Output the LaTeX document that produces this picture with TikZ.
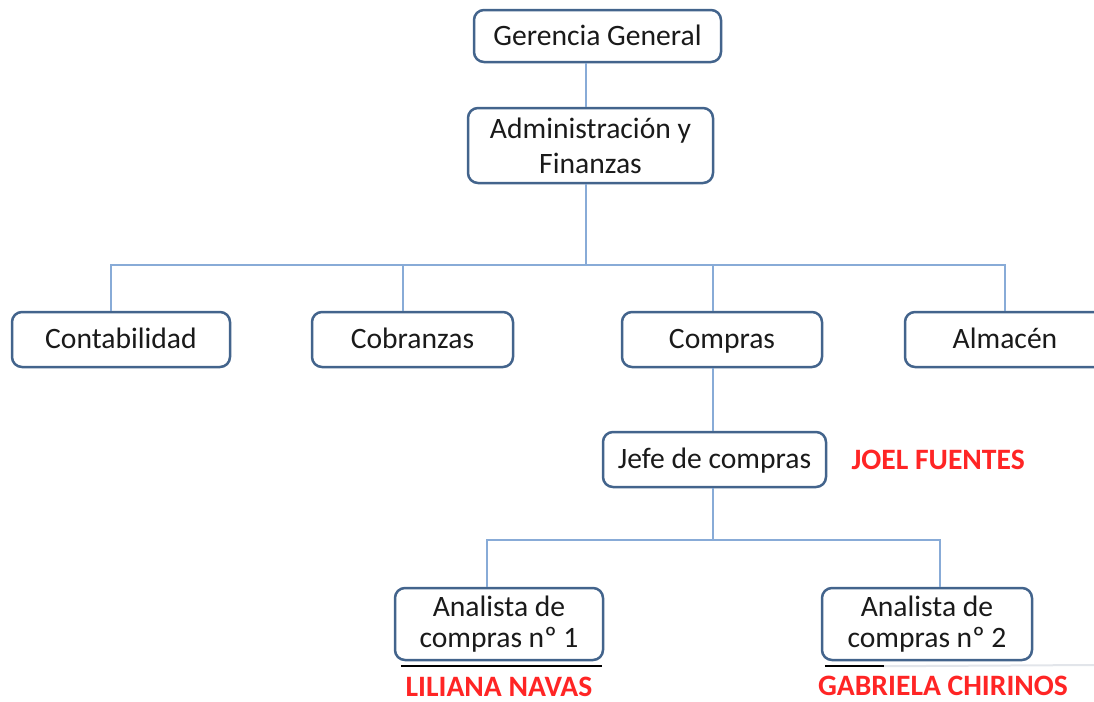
\documentclass[tikz,border=0pt]{standalone}
\usepackage{fontspec}
\setmainfont{Carlito}
\usepackage{tikz}
\usetikzlibrary{positioning}
\definecolor{ink}{HTML}{1A1A1A}
\definecolor{frame}{HTML}{43648C}
\definecolor{wire}{HTML}{88ABD7}
\definecolor{namered}{HTML}{FF2525}
\definecolor{shade}{HTML}{4A4A4A}
\definecolor{paleshade}{HTML}{E2E5EA}

\begin{document}
\begin{tikzpicture}[x=0.5pt,y=-0.5pt,
  every node/.style={font=\fontsize{14.8}{17.5}\selectfont,align=center,text=ink,inner sep=0pt},
  unit/.style={draw=frame,fill=white,line width=1.25pt,rounded corners=5pt},
  oneline/.style={text height=11pt,text depth=2pt},
  dept/.style={unit,oneline,minimum width=100pt,minimum height=27.5pt},
  analyst/.style={unit,minimum height=36pt,font=\fontsize{14.8}{15.5}\selectfont},
  person/.style={font=\bfseries\fontsize{14.8}{17}\selectfont,text=namered},
  wire/.style={draw=wire,line width=1pt}
]
\useasboundingbox (0,0) rectangle (1094,702);

\node[unit,oneline,minimum width=123.5pt,minimum height=26pt] (gg) at (597.5,36) {Gerencia General};
\node[unit,minimum width=122.5pt,minimum height=37.5pt] (adm) at (590.5,145.5) {Administraci\'on y\\Finanzas};

\node[dept,minimum width=109pt] (cont) at (121,339.5) {Contabilidad};
\node[dept,minimum width=100.5pt] (cob) at (412.5,339.5) {Cobranzas};
\node[dept] (comp) at (722,339.5) {Compras};
\node[dept] (alm) at (1005,339.5) {Almac\'en};

\node[dept,minimum width=111.5pt] (jefe) at (714.5,459.5) {Jefe de compras};
\node[person,right=12pt of jefe] (joel) {JOEL FUENTES};

\node[analyst,minimum width=104pt] (an1) at (499,624) {Analista de\\compras nº 1};
\node[analyst,minimum width=105pt] (an2) at (927,624) {Analista de\\compras nº 2};
\node[person,below=7.5pt of an1] (liliana) {LILIANA NAVAS};
\node[person,below=7pt of an2,xshift=8pt] (gabriela) {GABRIELA CHIRINOS};

% lines under the analyst boxes
\draw[shade,line width=1pt] ([xshift=3.5pt,yshift=-2.5pt]an1.south west) -- ([xshift=-1pt,yshift=-2.5pt]an1.south east);
\draw[paleshade,line width=1pt] ([xshift=31pt,yshift=-2.5pt]an2.south west) -- (1094,665);
\draw[shade,line width=1pt] ([xshift=2pt,yshift=-2.5pt]an2.south west) -- ([xshift=31.5pt,yshift=-2.5pt]an2.south west);

% connectors
\coordinate (hub) at ([xshift=-2.25pt]adm.south |- 0,265);
\coordinate (hub2) at ([xshift=-4.5pt]comp.south |- 0,540);
\draw[wire] ([xshift=-2.25pt]adm.north) -- ([xshift=-2.25pt]adm.north |- gg.south);
\draw[wire] ([xshift=-2.25pt]adm.south) -- (hub);
\foreach \d/\s in {cont/-5,cob/-4.75,comp/-4.5,alm/0}
  \draw[wire] (hub) -| ([xshift=\s pt]\d.north);
\draw[wire] ([xshift=-4.5pt]comp.south) -- ([xshift=-4.5pt]comp.south |- jefe.north);
\draw[wire] (jefe.south -| hub2) -- (hub2);
\foreach \d/\s in {an1/-6,an2/6.5}
  \draw[wire] (hub2) -| ([xshift=\s pt]\d.north);
\end{tikzpicture}
\end{document}
